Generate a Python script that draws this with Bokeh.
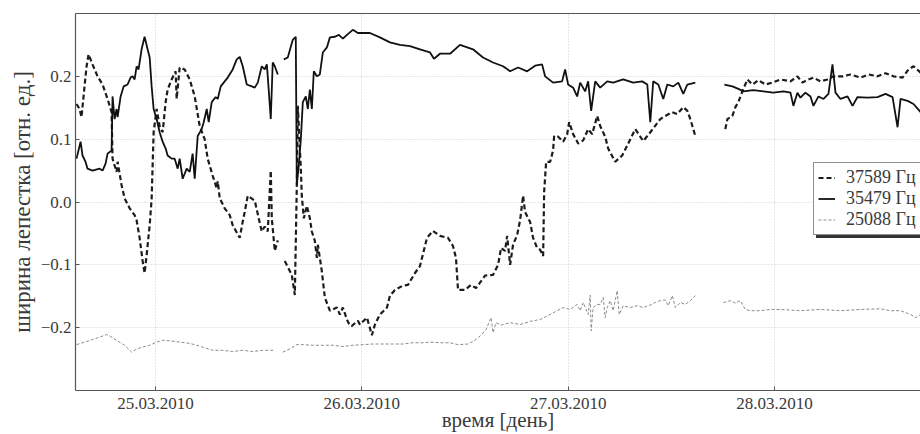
import numpy as np
from bokeh.plotting import figure
from bokeh.models import (Range1d, FixedTicker, LinearAxis, Legend, LegendItem,
                          ColumnDataSource)
from bokeh.embed import file_html
from bokeh.resources import INLINE

nan = float("nan")

# time in hours since 24.03.2010 00:00
day_ticks = [24, 48, 72, 96]
day_labels = ["25.03.2010", "26.03.2010", "27.03.2010", "28.03.2010"]
width_ticks = [-0.2, -0.1, 0.0, 0.1, 0.2]
width_labels = ["\u22120.2", "\u22120.1", "0.0", "0.1", "0.2"]
series_labels = ["37589 Гц", "35479 Гц", "25088 Гц"]
x_title = "время [день]"
y_title = "ширина лепестка [отн. ед.]"

# (hour, lobe width) pairs; (nan, nan) marks a gap in the record
f37589 = [
    (14.80, 0.156), (15.15, 0.148), (15.38, 0.135), (15.73, 0.184), (15.97, 0.216), (16.20, 0.235),
    (16.66, 0.219), (17.25, 0.200), (17.83, 0.187), (18.41, 0.164), (18.88, 0.143), (18.99, 0.069),
    (19.46, 0.048), (19.58, 0.064), (20.04, 0.027), (20.39, 0.006), (20.98, -0.010), (21.56, -0.021),
    (21.79, -0.029), (22.14, -0.057), (22.49, -0.094), (22.72, -0.113), (22.96, -0.084), (23.31, -0.037),
    (23.54, 0.005), (23.77, 0.111), (24.12, 0.148), (24.47, 0.121), (24.82, 0.111), (25.17, 0.159),
    (25.40, 0.179), (25.87, 0.195), (26.33, 0.208), (26.45, 0.164), (26.80, 0.214), (27.38, 0.211),
    (27.97, 0.195), (28.55, 0.168), (29.13, 0.121), (29.71, 0.100), (30.06, 0.069), (30.64, 0.042),
    (31.11, 0.022), (31.23, 0.033), (31.46, 0.006), (32.04, -0.010), (32.63, -0.021), (32.97, -0.037),
    (33.79, -0.057), (34.14, -0.031), (34.37, -0.016), (34.72, 0.010), (35.54, 0.002), (36.35, -0.047),
    (36.70, -0.039), (37.05, -0.047), (37.40, 0.050), (37.52, -0.026), (37.87, -0.078), (38.22, -0.061),
    (nan, nan),
    (39.03, -0.094), (39.85, -0.116), (40.20, -0.148), (40.43, 0.026), (40.55, 0.153), (40.90, 0.053),
    (41.01, 0.010), (41.25, -0.026), (41.60, -0.006), (41.95, -0.026), (42.18, -0.047), (42.53, -0.062),
    (42.76, -0.089), (42.88, -0.068), (43.34, -0.110), (43.69, -0.152), (44.28, -0.173), (45.09, -0.168),
    (45.44, -0.179), (45.79, -0.168), (46.26, -0.187), (46.61, -0.197), (46.84, -0.197), (47.54, -0.189),
    (47.77, -0.195), (48.59, -0.184), (49.17, -0.212), (49.52, -0.195), (50.10, -0.179), (50.92, -0.168),
    (51.27, -0.149), (51.85, -0.140), (52.78, -0.133), (53.36, -0.132), (54.18, -0.113), (54.76, -0.102),
    (55.58, -0.057), (56.27, -0.046), (57.09, -0.054), (58.02, -0.057), (58.60, -0.070), (58.95, -0.089),
    (59.19, -0.140), (60.00, -0.140), (60.70, -0.132), (61.28, -0.137), (61.87, -0.126), (62.33, -0.117),
    (63.26, -0.116), (63.85, -0.100), (64.20, -0.073), (64.66, -0.078), (64.90, -0.054), (65.25, -0.100),
    (65.59, -0.068), (66.06, -0.053), (66.41, -0.029), (66.76, 0.010), (66.99, -0.016), (67.58, -0.032),
    (67.92, -0.057), (68.39, -0.073), (68.74, -0.076), (69.09, -0.086), (69.21, 0.016), (69.44, 0.064),
    (69.91, 0.064), (70.25, 0.082), (70.37, 0.105), (70.84, 0.104), (71.42, 0.096), (71.89, 0.108),
    (72.12, 0.127), (72.58, 0.108), (73.17, 0.093), (73.75, 0.098), (74.33, 0.116), (74.80, 0.108),
    (75.38, 0.137), (75.73, 0.121), (76.31, 0.104), (76.66, 0.085), (77.48, 0.064), (78.29, 0.074),
    (78.99, 0.093), (79.81, 0.116), (80.74, 0.097), (81.56, 0.111), (82.72, 0.132), (83.30, 0.137),
    (84.12, 0.143), (84.70, 0.140), (85.40, 0.151), (85.87, 0.145), (86.22, 0.132), (86.56, 0.116),
    (86.80, 0.105),
    (nan, nan),
    (90.29, 0.116), (90.53, 0.132), (91.11, 0.137), (91.46, 0.151), (91.81, 0.159), (92.27, 0.176),
    (92.86, 0.195), (93.44, 0.187), (94.14, 0.194), (94.95, 0.187), (95.77, 0.190), (96.70, 0.195),
    (97.87, 0.192), (98.68, 0.200), (99.26, 0.190), (99.96, 0.195), (100.54, 0.198), (101.36, 0.192),
    (102.18, 0.195), (102.87, 0.200), (103.92, 0.200), (104.86, 0.203), (106.02, 0.198), (106.95, 0.203),
    (108.00, 0.200), (108.93, 0.205), (109.86, 0.200), (110.91, 0.198), (111.61, 0.211), (112.19, 0.216),
    (113.01, 0.206),
]

f35479 = [
    (14.80, 0.069), (15.27, 0.096), (15.50, 0.074), (15.85, 0.064), (16.08, 0.053), (16.66, 0.050),
    (17.48, 0.053), (17.83, 0.050), (18.18, 0.061), (18.41, 0.077), (18.88, 0.082), (18.99, 0.168),
    (19.23, 0.132), (19.46, 0.148), (19.58, 0.135), (19.93, 0.168), (20.28, 0.184), (20.74, 0.187),
    (21.09, 0.198), (21.32, 0.200), (21.56, 0.195), (21.79, 0.216), (22.02, 0.211), (22.37, 0.243),
    (22.72, 0.263), (23.07, 0.243), (23.31, 0.230), (23.54, 0.184), (23.77, 0.148), (24.12, 0.132),
    (24.47, 0.111), (24.82, 0.096), (25.17, 0.085), (25.40, 0.074), (25.87, 0.069), (26.22, 0.069),
    (26.57, 0.053), (26.80, 0.069), (27.15, 0.037), (27.62, 0.053), (27.97, 0.048), (28.31, 0.077),
    (28.55, 0.037), (28.90, 0.105), (29.36, 0.116), (29.60, 0.127), (29.95, 0.148), (30.18, 0.127),
    (30.53, 0.159), (30.99, 0.167), (31.23, 0.164), (31.58, 0.184), (32.04, 0.192), (32.39, 0.198),
    (32.97, 0.211), (33.44, 0.227), (33.79, 0.231), (34.14, 0.216), (34.61, 0.187), (35.19, 0.184),
    (35.54, 0.182), (35.89, 0.190), (36.35, 0.216), (36.70, 0.211), (36.94, 0.219), (37.05, 0.200),
    (37.40, 0.132), (37.63, 0.222), (37.87, 0.216), (38.22, 0.203),
    (nan, nan),
    (38.92, 0.227), (39.38, 0.230), (39.73, 0.247), (39.96, 0.258), (40.31, 0.263), (40.43, 0.027),
    (40.66, 0.058), (40.90, 0.100), (41.13, 0.159), (41.48, 0.168), (41.71, 0.148), (41.95, 0.179),
    (42.18, 0.148), (42.41, 0.208), (42.76, 0.200), (43.11, 0.203), (43.46, 0.238), (43.93, 0.246),
    (44.28, 0.262), (44.86, 0.263), (45.32, 0.266), (45.79, 0.260), (46.26, 0.266), (46.95, 0.274),
    (47.54, 0.269), (48.12, 0.269), (48.94, 0.269), (50.10, 0.262), (51.27, 0.254), (52.43, 0.250),
    (53.60, 0.248), (54.76, 0.243), (55.93, 0.238), (56.39, 0.228), (57.09, 0.236), (58.26, 0.236),
    (59.42, 0.250), (60.93, 0.243), (62.10, 0.230), (63.26, 0.222), (64.43, 0.216), (65.25, 0.208),
    (66.18, 0.214), (67.23, 0.208), (68.16, 0.217), (68.97, 0.219), (69.32, 0.200), (70.25, 0.190),
    (71.30, 0.192), (71.65, 0.211), (72.00, 0.187), (72.58, 0.182), (73.05, 0.168), (73.40, 0.190),
    (73.98, 0.176), (74.33, 0.192), (74.68, 0.145), (75.15, 0.192), (75.73, 0.182), (76.55, 0.192),
    (77.24, 0.190), (78.41, 0.195), (79.57, 0.190), (80.62, 0.192), (81.21, 0.187), (81.56, 0.127),
    (81.90, 0.192), (82.49, 0.187), (83.07, 0.164), (83.54, 0.187), (84.23, 0.184), (84.82, 0.190),
    (85.40, 0.172), (85.87, 0.187), (86.80, 0.190),
    (nan, nan),
    (90.18, 0.187), (91.11, 0.184), (91.81, 0.180), (92.39, 0.176), (93.55, 0.178), (94.72, 0.176),
    (95.88, 0.174), (97.05, 0.176), (97.87, 0.174), (98.21, 0.153), (98.68, 0.174), (99.03, 0.166),
    (99.61, 0.174), (100.20, 0.168), (100.54, 0.153), (101.13, 0.168), (101.71, 0.164), (102.29, 0.172),
    (102.76, 0.219), (103.11, 0.174), (103.69, 0.164), (104.51, 0.168), (105.09, 0.153), (105.67, 0.167),
    (106.84, 0.166), (108.00, 0.167), (108.93, 0.172), (109.75, 0.167), (110.33, 0.119), (110.68, 0.164),
    (111.50, 0.161), (112.19, 0.156), (113.01, 0.143),
]

f25088 = [
    (14.80, -0.227), (15.73, -0.223), (16.66, -0.219), (17.48, -0.215), (18.30, -0.211), (18.65, -0.213),
    (19.46, -0.220), (20.39, -0.228), (21.21, -0.239), (21.79, -0.234), (22.49, -0.231), (23.31, -0.228),
    (24.12, -0.223), (24.82, -0.220), (25.64, -0.221), (26.80, -0.223), (27.97, -0.225), (28.78, -0.228),
    (29.48, -0.231), (30.64, -0.236), (31.81, -0.236), (32.97, -0.238), (34.14, -0.236), (35.30, -0.238),
    (36.47, -0.236), (37.87, -0.236),
    (nan, nan),
    (38.80, -0.239), (39.62, -0.234), (40.43, -0.227), (41.13, -0.227), (42.29, -0.228), (43.46, -0.228),
    (44.62, -0.228), (45.79, -0.230), (46.95, -0.228), (48.12, -0.227), (49.28, -0.226), (50.45, -0.226),
    (51.61, -0.226), (52.78, -0.226), (53.94, -0.224), (55.11, -0.224), (55.93, -0.223), (57.09, -0.224),
    (58.26, -0.224), (59.19, -0.227), (60.35, -0.226), (61.17, -0.220), (61.87, -0.212), (62.45, -0.203),
    (63.03, -0.184), (63.26, -0.208), (63.61, -0.192), (64.20, -0.196), (65.25, -0.192), (66.41, -0.195),
    (67.58, -0.190), (68.74, -0.187), (69.91, -0.179), (70.72, -0.173), (71.42, -0.168), (72.24, -0.171),
    (73.05, -0.163), (73.40, -0.173), (73.75, -0.160), (74.33, -0.179), (74.57, -0.148), (74.68, -0.205),
    (74.91, -0.168), (75.38, -0.163), (75.73, -0.163), (76.08, -0.152), (76.31, -0.184), (76.55, -0.168),
    (76.90, -0.157), (77.24, -0.173), (77.71, -0.141), (77.94, -0.179), (78.41, -0.165), (79.23, -0.168),
    (80.04, -0.165), (80.74, -0.168), (81.56, -0.164), (82.14, -0.160), (82.72, -0.157), (83.30, -0.156),
    (83.65, -0.165), (84.12, -0.149), (84.47, -0.168), (85.05, -0.160), (85.63, -0.163), (86.22, -0.157),
    (86.80, -0.149),
    (nan, nan),
    (90.06, -0.160), (90.88, -0.157), (91.46, -0.161), (92.04, -0.157), (92.62, -0.171), (93.21, -0.173),
    (94.37, -0.173), (95.54, -0.171), (96.70, -0.171), (99.03, -0.173), (101.36, -0.171), (103.69, -0.173),
    (106.02, -0.171), (108.35, -0.170), (109.52, -0.173), (110.68, -0.173), (111.85, -0.179), (112.43, -0.184),
    (113.01, -0.179),
]

FONT = "Liberation Serif"
TXT = "#3a3a3a"
FRAME = "#555555"


def source(pairs):
    t, v = zip(*pairs)
    return ColumnDataSource(dict(t=np.array(t, dtype=float), v=np.array(v, dtype=float)))


p = figure(width=920, height=434, output_backend="svg", toolbar_location=None,
           x_range=Range1d(14.68, 113.0), y_range=Range1d(-0.3, 0.3),
           min_border_left=75, min_border_right=0, min_border_top=13, min_border_bottom=41,
           x_axis_label=x_title, y_axis_label=y_title)
p.outline_line_color = None
p.background_fill_color = "white"
p.border_fill_color = "white"

r1 = p.line("t", "v", source=source(f37589), line_color="#1c1c1c", line_width=2.2, line_dash="5 3")
r2 = p.line("t", "v", source=source(f35479), line_color="#111111", line_width=1.8)
r3 = p.line("t", "v", source=source(f25088), line_color="#8a8a8a", line_width=1.0, line_dash="3 2")

p.xaxis.ticker = FixedTicker(ticks=day_ticks)
p.xaxis.major_label_overrides = dict(zip(day_ticks, day_labels))
p.yaxis.ticker = FixedTicker(ticks=width_ticks)
p.yaxis.major_label_overrides = dict(zip(width_ticks, width_labels))

for ax in (p.xaxis[0], p.yaxis[0]):
    ax.axis_line_color = FRAME
    ax.axis_line_width = 1.2
    ax.major_tick_in = 4
    ax.major_tick_out = 0
    ax.major_tick_line_color = FRAME
    ax.minor_tick_line_color = None
    ax.major_label_text_font = FONT
    ax.major_label_text_font_size = "17px"
    ax.major_label_text_color = TXT
    ax.axis_label_text_font = FONT
    ax.axis_label_text_font_style = "normal"
    ax.axis_label_text_color = TXT

p.yaxis.major_label_standoff = 4
p.yaxis.axis_label_text_font_size = "23px"
p.yaxis.axis_label_standoff = 3
p.xaxis.major_label_standoff = 7
p.xaxis.axis_label_text_font_size = "21px"
p.xaxis.axis_label_standoff = -4

top = LinearAxis(ticker=FixedTicker(ticks=[]), major_label_text_font_size="0px",
                 major_tick_in=0, major_tick_out=0, minor_tick_line_color=None,
                 axis_line_color=FRAME, axis_line_width=1.2)
p.add_layout(top, "above")

for g in (p.xgrid[0], p.ygrid[0]):
    g.grid_line_color = "#cfcfcf"
    g.grid_line_dash = "1 2"
    g.grid_line_width = 1
p.xgrid.ticker = FixedTicker(ticks=day_ticks)
p.ygrid.ticker = FixedTicker(ticks=width_ticks)

legend_style = dict(orientation="vertical",
                    label_text_font=FONT, label_text_font_size="18px",
                    label_height=21, glyph_height=21, glyph_width=17, label_standoff=11,
                    label_width=90, spacing=0, padding=4, margin=0)

# drop shadow: a dark box of the legend's size offset down-right, drawn first
shadow = Legend(items=[LegendItem(label="", renderers=[r]) for r in (r1, r2, r3)],
                location=(741, 152), label_text_color="#333333",
                border_line_color=None, background_fill_color="#333333",
                background_fill_alpha=1.0, **legend_style)
p.add_layout(shadow)

legend = Legend(items=[LegendItem(label=series_labels[i], renderers=[r])
                       for i, r in enumerate((r1, r2, r3))],
                location=(738, 155), label_text_color=TXT,
                border_line_color="#222222", border_line_width=1,
                background_fill_color="white", background_fill_alpha=1.0, **legend_style)
p.add_layout(legend)

open("out.html", "w").write(file_html(p, INLINE))
